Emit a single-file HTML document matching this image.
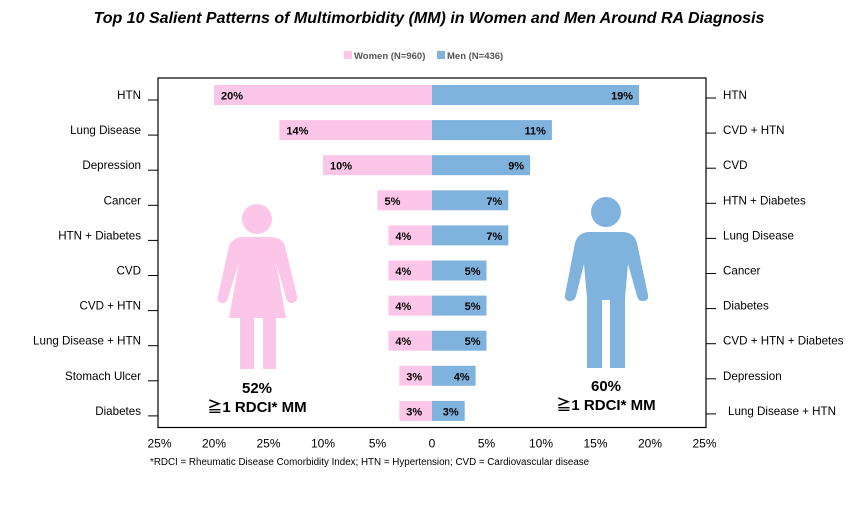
<!DOCTYPE html>
<html><head><meta charset="utf-8"><style>
body{margin:0;background:#fff;font-family:"Liberation Sans",Arial,sans-serif;}
svg text{font-family:"Liberation Sans",Arial,"Noto Sans CJK JP",sans-serif;}
</style></head><body>
<svg id="chart" width="858" height="518" viewBox="0 0 858 518">
<text x="429" y="23" text-anchor="middle" font-size="16" font-weight="bold" font-style="italic">Top 10 Salient Patterns of Multimorbidity  (MM)  in Women and Men Around RA Diagnosis</text>
<g>
<rect x="344" y="51" width="8" height="8" fill="#fcc6e8"/>
<text x="354" y="59" font-size="9.5" font-weight="bold" fill="#555">Women (N=960)</text>
<rect x="437" y="51" width="8" height="8" fill="#7fb2dc"/>
<text x="447" y="59" font-size="9.5" font-weight="bold" fill="#555">Men (N=436)</text>
</g>
<rect x="158" y="78" width="548" height="349.5" fill="none" stroke="#000" stroke-width="1.2"/>
<g id="bars"></g>
<g fill="#fcc6e8">
<circle cx="257" cy="219" r="15"/>
<path d="M242 237 L272 237 Q282 238 285 246 L297 296 Q298 302 292 303 Q287 303 286 298 L276 262 L286 318 L276 318 L276 369 L263 369 L263 318 L254 318 L254 369 L240 369 L240 318 L229 318 L239 262 L228 298 Q227 303 222 303 Q216 302 218 296 L229 246 Q232 238 242 237 Z"/>
</g>
<g fill="#7fb2dc">
<circle cx="606" cy="212" r="15"/>
<path d="M590 232 L622 232 Q634 232 637 243 L648 295 Q649 301 643 301 Q638 301 637 296 L628 264 L625 298 L625 368 L610 368 L610 300 L602 300 L602 368 L587 368 L587 298 L584 264 L576 296 Q575 301 569 301 Q564 300 565 295 L575 243 Q578 232 590 232 Z"/>
</g>
<text x="257" y="393" text-anchor="middle" font-size="15" font-weight="bold">52%</text>
<text x="257" y="412" text-anchor="middle" font-size="15" font-weight="bold">≧1 RDCI* MM</text>
<text x="606" y="391" text-anchor="middle" font-size="15" font-weight="bold">60%</text>
<text x="606" y="410" text-anchor="middle" font-size="15" font-weight="bold">≧1 RDCI* MM</text>
<text x="150" y="465" font-size="9.8">*RDCI = Rheumatic Disease Comorbidity Index; HTN = Hypertension; CVD = Cardiovascular disease</text>
<g id="axes"></g>
</svg>
<script>
const womenCats=["HTN","Lung Disease","Depression","Cancer","HTN + Diabetes","CVD","CVD + HTN","Lung Disease + HTN","Stomach Ulcer","Diabetes"];
const menCats=["HTN","CVD + HTN","CVD","HTN + Diabetes","Lung Disease","Cancer","Diabetes","CVD + HTN + Diabetes","Depression","Lung Disease + HTN"];
const womenVals=[20,14,10,5,4,4,4,4,3,3];
const menVals=[19,11,9,7,7,5,5,5,4,3];
const tickVals=[-25,-20,-15,-10,-5,0,5,10,15,20,25];
const tickLabels=["25%","20%","25%","10%","5%","0","5%","10%","15%","20%","25%"];
const NS="http://www.w3.org/2000/svg";
const x0=432, pxPer=10.9;
function xs(v){return x0+v*pxPer;}
function ys(i){return 95+i*35.1;}
const bars=document.getElementById('bars'), axes=document.getElementById('axes');
function mk(tag,attrs,parent){const e=document.createElementNS(NS,tag);for(const k in attrs)e.setAttribute(k,attrs[k]);parent.appendChild(e);return e;}
womenVals.forEach((v,i)=>{
 const y=ys(i);
 const r=mk('rect',{x:xs(-v),y:y-10,width:xs(0)-xs(-v),height:20,fill:'#fcc6e8'},bars);
 
 
 const t=mk('text',{x:xs(-v)+7,y:y+4.5,'font-size':11,'font-weight':'bold'},bars);t.textContent=v+'%';
 
 
 const l=mk('text',{x:141,y:y+4,'font-size':11.6,'text-anchor':'end'},axes);l.textContent=womenCats[i];
 
 
 const tk=mk('line',{x1:148,x2:158,y1:y+5,y2:y+5,stroke:'#000'},axes);
 
 
});
menVals.forEach((v,i)=>{
 const y=ys(i);
 const r=mk('rect',{x:xs(0),y:y-10,width:xs(v)-xs(0),height:20,fill:'#7fb2dc'},bars);
 
 
 const t=mk('text',{x:xs(v)-6,y:y+4.5,'font-size':11,'font-weight':'bold','text-anchor':'end'},bars);t.textContent=v+'%';
 
 
 const l=mk('text',{x:i==9?728:723,y:y+4,'font-size':11.6},axes);l.textContent=menCats[i];
 
 
 const tk=mk('line',{x1:706,x2:716,y1:y+3,y2:y+3,stroke:'#000'},axes);
 
 
});
tickVals.forEach((v,i)=>{
 const t=mk('text',{x:xs(v),y:447.5,'font-size':12,'text-anchor':'middle'},axes);
 t.textContent=tickLabels[i];
 
 
});
</script>
</body></html>
